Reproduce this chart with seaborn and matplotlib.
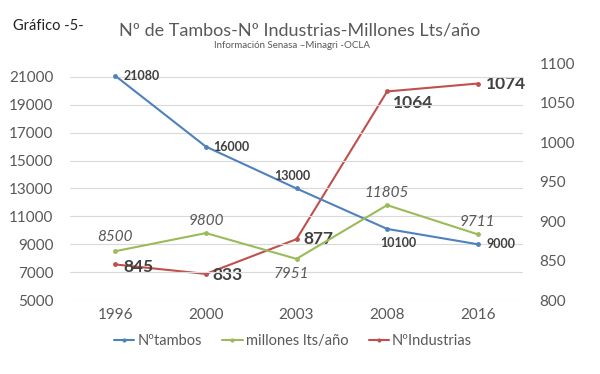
import matplotlib
matplotlib.use("Agg")
import matplotlib.pyplot as plt
from matplotlib.lines import Line2D
import seaborn as sns
import pandas as pd

years = ["1996", "2000", "2003", "2008", "2016"]
tambos = [21080, 16000, 13000, 10100, 9000]
millones = [8500, 9800, 7951, 11805, 9711]
industrias = [845, 833, 877, 1064, 1074]
series_names = ["Nºtambos", "millones lts/año", "NºIndustrias"]

sns.set_theme(style="white")
plt.rcParams['font.family'] = ['Lato', 'DejaVu Sans']

BLUE = "#4F81BD"
GREEN = "#9BBB59"
RED = "#C0504D"
GREY = "#595959"

df = pd.DataFrame({"pos": range(len(years)), "year": years,
                   "tambos": tambos, "millones": millones, "industrias": industrias})

fig = plt.figure(figsize=(6, 3.74), dpi=100)
ax = fig.add_axes([70/600, 74/374, 453/600, 237/374])
ax2 = ax.twinx()

kw = dict(marker="o", markersize=3.5, markeredgewidth=0, linewidth=1.5, legend=False)
sns.lineplot(data=df, x="pos", y="tambos", ax=ax, color=BLUE, **kw)
sns.lineplot(data=df, x="pos", y="millones", ax=ax, color=GREEN, **kw)
sns.lineplot(data=df, x="pos", y="industrias", ax=ax2, color=RED, **kw)

ax.set_xlim(-0.5, len(years) - 0.5)
ax.set_ylim(5000, 22000)
ax.set_yticks(range(5000, 21001, 2000))
ax2.set_ylim(800, 1100)
ax2.set_yticks(range(800, 1101, 50))
ax.set_xticks(range(len(years)))
ax.set_xticklabels(years)
for a in (ax, ax2):
    a.set_xlabel("")
    a.set_ylabel("")
    for s in a.spines.values():
        s.set_visible(False)
    a.tick_params(length=0, labelsize=11, labelcolor=GREY)
ax.tick_params(axis="y", pad=12)
ax2.tick_params(axis="y", pad=12)
ax.tick_params(axis="x", pad=6)
ax.grid(axis="y", color="#D9D9D9", linewidth=0.8)
ax.grid(axis="x", visible=False)
ax2.grid(False)
ax.set_zorder(ax2.get_zorder() + 1)
ax.patch.set_visible(False)

# data labels
blue_off = [(6, 0, "left", "center"), (5, 0, "left", "center"), (-3, 9, "center", "center"),
            (8, -10, "center", "center"), (6, 0, "left", "center")]
for i, v in enumerate(tambos):
    dx, dy, ha, va = blue_off[i]
    ax.annotate(f"{v}", (i, v), xytext=(dx, dy), textcoords="offset points",
                ha=ha, va=va, fontsize=9, fontweight="bold", color="#404040")
green_off = [(0, 10), (0, 9), (-4, -11), (0, 9), (0, 9)]
for i, v in enumerate(millones):
    dx, dy = green_off[i]
    ax.annotate(f"{v}", (i, v), xytext=(dx, dy), textcoords="offset points",
                ha="center", va="center", fontsize=11, fontstyle="italic", color=GREY)
red_off = [(6, -2, "left"), (5, -1, "left"), (5, 0, "left"), (4, -8, "left"), (6, 0, "left")]
for i, v in enumerate(industrias):
    dx, dy, ha = red_off[i]
    ax2.annotate(f"{v}", (i, v), xytext=(dx, dy), textcoords="offset points",
                 ha=ha, va="center", fontsize=12.5, fontweight="bold", color="#404040")

fig.text(13/600, 1 - 26/374, "Gráfico -5-", fontsize=10.5, color="#222222", va="center", ha="left")
fig.text(300/600, 1 - 30/374, "Nº de Tambos-Nº Industrias-Millones Lts/año", fontsize=13,
         color=GREY, va="center", ha="center")
fig.text(292/600, 1 - 46/374, "Información Senasa –Minagri -OCLA", fontsize=7,
         color=GREY, va="center", ha="center")

handles = [Line2D([], [], color=c, marker="o", markersize=3, markeredgewidth=0, linewidth=1.5)
           for c in (BLUE, GREEN, RED)]
fig.legend(handles, series_names, loc="center", bbox_to_anchor=(293/600, 1 - 341/374),
           ncol=3, frameon=False, fontsize=10.5, labelcolor=GREY, handlelength=1.4,
           handletextpad=0.2, columnspacing=1.4, markerfirst=True)

fig.savefig("out.png", dpi=100)
